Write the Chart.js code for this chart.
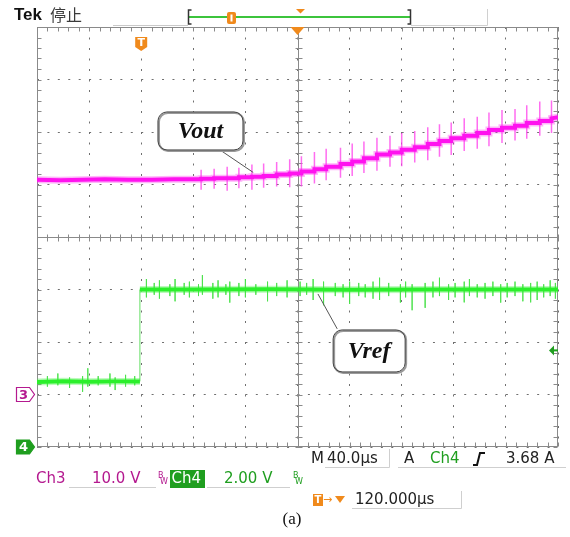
<!DOCTYPE html>
<html lang="zh">
<head>
<meta charset="UTF-8" />
<title>Vout / Vref</title>
<script src="https://cdn.jsdelivr.net/npm/chart.js"></script>
<style>
  html, body { margin: 0; padding: 0; background: #fff; }
  #wrap { width: 570px; height: 537px; }
</style>
</head>
<body>
<div id="wrap"><canvas id="scope" width="570" height="537"></canvas></div>
<script>
// time in µs (trigger = 0), Ch3 in V (10 V/div), Ch4 in V (2 V/div)

// Ch3 - Vout: flat part, then one step per switching period
const voutHeadT = [-80, -62, -45, -28, -10, 8, 25, 40];
const voutHeadV = [40.9, 40.8, 40.9, 41.0, 40.9, 40.9, 41.0, 41.0];
const voutStepT = [46, 56, 66, 75, 85, 94, 104, 114, 123, 133, 142, 153, 162, 171, 181,
                   191, 200, 210, 220, 229, 238, 248, 258, 267, 277, 287, 296, 306, 315];
const voutLevel = [41.1, 41.2, 41.2, 41.4, 41.5, 41.6, 41.9, 42.1, 42.5, 42.9, 43.4, 43.9, 44.4, 45.0, 45.7,
                   46.1, 46.6, 47.1, 47.7, 48.3, 48.8, 49.3, 49.8, 50.4, 50.8, 51.2, 51.7, 52.1, 52.6];
const voutTailT = [320];
const voutTailV = [52.8];
// switching spikes on Vout (top / bottom of each spike)
const voutSpikeHi = [42.8, 43.0, 43.4, 43.2, 43.8, 44.0, 44.3, 44.8, 45.4, 46.2, 46.8, 47.0, 47.8, 48.2, 48.9,
                     49.3, 49.8, 50.2, 50.9, 51.5, 51.8, 52.6, 52.9, 53.7, 54.2, 54.4, 55.1, 55.8, 56.0];
const voutSpikeLo = [39.0, 39.2, 38.8, 39.3, 39.0, 39.4, 39.6, 39.5, 39.6, 40.2, 40.8, 41.3, 41.6, 42.2, 42.6,
                     43.4, 43.5, 44.2, 44.6, 45.3, 45.6, 46.4, 46.8, 47.3, 47.9, 48.4, 48.7, 49.3, 49.8];

// Ch4 - Vref: 2.5 V stepping to 6.0 V at the trigger
const vrefT = [-80, -60, -40, -20, -1, -1, 40, 100, 160, 220, 280, 320];
const vrefV = [2.48, 2.50, 2.49, 2.50, 2.50, 6.00, 6.00, 6.01, 5.99, 6.00, 6.00, 6.00];
const vrefSpikeT  = [-72, -64, -55, -45, -41, -33, -24, -20, -12, -5,
                     4, 10, 14, 22, 26, 33, 37, 44, 47, 55, 59, 65, 68, 75, 80, 88, 97, 104, 112, 122,
                     127, 132, 140, 149, 155, 160, 167, 172, 178, 183, 190, 199, 203, 208, 218, 224,
                     229, 236, 241, 248, 252, 258, 264, 270, 276, 281, 287, 293, 299, 304, 309, 314, 318];
const vrefSpikeHi = [2.70, 2.80, 2.65, 2.70, 3.00, 2.70, 2.80, 2.65, 2.75, 2.70,
                     6.40, 6.25, 6.35, 6.20, 6.40, 6.25, 6.30, 6.20, 6.55, 6.25, 6.35, 6.20, 6.30, 6.25, 6.40, 6.20, 6.30, 6.25, 6.35, 6.30,
                     6.25, 6.40, 6.30, 6.25, 6.20, 6.30, 6.25, 6.20, 6.30, 6.45, 6.25, 6.20, 6.30, 6.20, 6.25, 6.30,
                     6.45, 6.20, 6.25, 6.30, 6.40, 6.20, 6.25, 6.30, 6.20, 6.25, 6.30, 6.20, 6.25, 6.30, 6.20, 6.35, 6.25];
const vrefSpikeLo = [2.30, 2.35, 2.25, 2.10, 2.30, 2.35, 2.30, 2.17, 2.30, 2.35,
                     5.70, 5.80, 5.65, 5.75, 5.55, 5.80, 5.70, 5.75, 5.80, 5.65, 5.70, 5.80, 5.50, 5.75, 5.70, 5.80, 5.55, 5.75, 5.70, 5.75,
                     5.80, 5.60, 5.40, 5.75, 5.70, 5.45, 5.75, 5.70, 5.65, 5.60, 5.75, 5.50, 5.70, 5.21, 5.30, 5.70,
                     5.75, 5.60, 5.70, 5.51, 5.75, 5.70, 5.65, 5.75, 5.50, 5.70, 5.75, 5.55, 5.51, 5.60, 5.70, 5.75, 5.65];

// build point lists
const voutPts = voutHeadT.map((t, i) => ({ x: t, y: voutHeadV[i] }));
let lastLevel = voutHeadV[voutHeadV.length - 1];
voutStepT.forEach((t, i) => {
  voutPts.push({ x: t, y: lastLevel }, { x: t, y: voutLevel[i] });
  lastLevel = voutLevel[i];
});
voutTailT.forEach((t, i) => voutPts.push({ x: t, y: voutTailV[i] }));

const vrefPts = vrefT.map((t, i) => ({ x: t, y: vrefV[i] }));

function spikes(ts, hi, lo) {
  const pts = [];
  ts.forEach((t, i) => pts.push({ x: t, y: hi[i] }, { x: t, y: lo[i] }, { x: t, y: null }));
  return pts;
}

const MAGENTA = '#ff12ef';
const GREEN = '#2bef2b';
const ORANGE = '#f08a1c';
const DKGREEN = '#1f9e1f';
const PURPLE = '#b4198f';

const isVertical = ctx => ctx.p0.parsed.x === ctx.p1.parsed.x;

// oscilloscope graticule: frame, centre axes and minor ticks
const graticule = {
  id: 'graticule',
  beforeDatasetsDraw(chart) {
    const { ctx, chartArea: a, scales: { x, y } } = chart;
    const L = Math.round(a.left) + 0.5, R = Math.round(a.right) - 0.5;
    const T = Math.round(a.top) + 0.5, B = Math.round(a.bottom) - 0.5;
    const cx = Math.round(x.getPixelForValue(120)) + 0.5;
    const cy = Math.round(y.getPixelForValue(30)) + 0.5;
    ctx.save();
    ctx.strokeStyle = '#8a8a8a';
    ctx.lineWidth = 1;
    ctx.strokeRect(L, T, R - L, B - T);
    ctx.beginPath();
    ctx.moveTo(cx, T); ctx.lineTo(cx, B);
    ctx.moveTo(L, cy); ctx.lineTo(R, cy);
    for (let t = -80; t <= 320; t += 8) {
      const px = Math.round(x.getPixelForValue(t)) + 0.5;
      ctx.moveTo(px, T); ctx.lineTo(px, T + 4);
      ctx.moveTo(px, B); ctx.lineTo(px, B - 4);
      ctx.moveTo(px, cy - 3); ctx.lineTo(px, cy + 4);
    }
    for (let v = -10; v <= 70; v += 2) {
      const py = Math.round(y.getPixelForValue(v)) + 0.5;
      ctx.moveTo(L, py); ctx.lineTo(L + 4, py);
      ctx.moveTo(R, py); ctx.lineTo(R - 4, py);
      ctx.moveTo(cx - 3, py); ctx.lineTo(cx + 4, py);
    }
    ctx.stroke();
    ctx.restore();
  }
};

function callout(ctx, bx, by, w, h, label, lx0, ly0, lx1, ly1) {
  ctx.save();
  ctx.strokeStyle = '#555';
  ctx.lineWidth = 1;
  ctx.beginPath(); ctx.moveTo(lx0, ly0); ctx.lineTo(lx1, ly1); ctx.stroke();
  ctx.fillStyle = '#fff';
  ctx.beginPath(); ctx.roundRect(bx - w / 2, by - h / 2, w, h, 9); ctx.fill();
  ctx.strokeStyle = '#9a9a9a';
  ctx.lineWidth = 2;
  ctx.beginPath(); ctx.roundRect(bx - w / 2 + 1, by - h / 2 + 1, w, h, 9); ctx.stroke();
  ctx.strokeStyle = '#444';
  ctx.lineWidth = 1;
  ctx.beginPath(); ctx.roundRect(bx - w / 2, by - h / 2, w, h, 9); ctx.stroke();
  ctx.fillStyle = '#111';
  ctx.font = "italic 600 24px 'Liberation Serif'";
  ctx.textAlign = 'center';
  ctx.textBaseline = 'middle';
  ctx.fillText(label, bx, by + 1);
  ctx.restore();
}

function tag(ctx, x, y, fill, stroke, label, txtColor) {
  ctx.save();
  ctx.beginPath();
  ctx.moveTo(x, y - 7); ctx.lineTo(x + 13, y - 7); ctx.lineTo(x + 18, y);
  ctx.lineTo(x + 13, y + 7); ctx.lineTo(x, y + 7); ctx.closePath();
  if (fill) { ctx.fillStyle = fill; ctx.fill(); }
  ctx.strokeStyle = stroke; ctx.lineWidth = 1.2; ctx.stroke();
  ctx.fillStyle = txtColor;
  ctx.font = "bold 13px 'DejaVu Sans'";
  ctx.textAlign = 'center'; ctx.textBaseline = 'middle';
  ctx.fillText(label, x + 7, y + 1);
  ctx.restore();
}

function bw(ctx, x, y, color) {
  ctx.save();
  ctx.fillStyle = color;
  ctx.font = "8px 'DejaVu Sans'";
  ctx.textAlign = 'left';
  ctx.textBaseline = 'middle';
  ctx.fillText('B', x, y - 3);
  ctx.fillText('W', x + 2, y + 3);
  ctx.restore();
}

function line(ctx, pts, color, w) {
  ctx.save();
  ctx.strokeStyle = color; ctx.lineWidth = w;
  ctx.beginPath();
  ctx.moveTo(pts[0], pts[1]);
  for (let i = 2; i < pts.length; i += 2) ctx.lineTo(pts[i], pts[i + 1]);
  ctx.stroke();
  ctx.restore();
}

function txt(ctx, s, x, y, color, font) {
  ctx.fillStyle = color;
  ctx.font = font;
  ctx.textAlign = 'left';
  ctx.textBaseline = 'middle';
  ctx.fillText(s, x, y);
}

const overlay = {
  id: 'overlay',
  afterDatasetsDraw(chart) {
    const { ctx, scales: { x, y, y4 } } = chart;
    // callouts
    callout(ctx, x.getPixelForValue(45.5), y.getPixelForValue(50.2), 85, 38, 'Vout',
            x.getPixelForValue(61), y.getPixelForValue(46.5), x.getPixelForValue(86), y.getPixelForValue(42.3));
    callout(ctx, x.getPixelForValue(175), y4.getPixelForValue(3.66), 72, 42, 'Vref',
            x.getPixelForValue(150.5), y4.getPixelForValue(4.5), x.getPixelForValue(135.7), y4.getPixelForValue(5.83));

    // channel ground markers
    tag(ctx, 16.5, y.getPixelForValue(0), '#fff', PURPLE, '3', PURPLE);
    tag(ctx, 16.5, y4.getPixelForValue(0), DKGREEN, DKGREEN, '4', '#fff');

    // Ch4 trigger level arrow
    const ty = y4.getPixelForValue(3.68);
    ctx.save();
    ctx.fillStyle = DKGREEN; ctx.strokeStyle = DKGREEN; ctx.lineWidth = 2;
    ctx.beginPath(); ctx.moveTo(549, ty); ctx.lineTo(554, ty - 5); ctx.lineTo(554, ty + 5); ctx.closePath(); ctx.fill();
    ctx.beginPath(); ctx.moveTo(553, ty); ctx.lineTo(558, ty); ctx.stroke();
    ctx.restore();

    // trigger point marker and delay marker
    const tx = x.getPixelForValue(0);
    ctx.save();
    ctx.fillStyle = ORANGE;
    ctx.beginPath();
    ctx.moveTo(tx - 6, 37); ctx.lineTo(tx + 6, 37); ctx.lineTo(tx + 6, 47);
    ctx.lineTo(tx, 51); ctx.lineTo(tx - 6, 47); ctx.closePath(); ctx.fill();
    ctx.fillStyle = '#fff';
    ctx.font = "bold 11px 'DejaVu Sans'";
    ctx.textAlign = 'center'; ctx.textBaseline = 'middle';
    ctx.fillText('T', tx, 43);
    const mx = x.getPixelForValue(120);
    ctx.fillStyle = ORANGE;
    ctx.beginPath(); ctx.moveTo(mx - 7, 27); ctx.lineTo(mx + 7, 27); ctx.lineTo(mx, 35); ctx.closePath(); ctx.fill();
    ctx.restore();
  },
  afterDraw(chart) {
    const ctx = chart.ctx;
    ctx.save();
    // header
    txt(ctx, 'Tek', 14, 15, '#111', "bold 17px 'Liberation Sans'");
    txt(ctx, '停止', 50, 15, '#3a3a3a', "16px 'Noto Sans CJK SC'");
    line(ctx, [113, 25.5, 188, 25.5], '#c9c9c9', 1);
    line(ctx, [411, 25.5, 487.5, 25.5, 487.5, 9], '#d0d0d0', 1);
    line(ctx, [189, 17, 410, 17], '#3cc43c', 2);
    line(ctx, [191.5, 10, 188.5, 10, 188.5, 24, 191.5, 24], '#333', 1.5);
    line(ctx, [407.5, 10, 410.5, 10, 410.5, 24, 407.5, 24], '#333', 1.5);
    ctx.fillStyle = ORANGE;
    ctx.beginPath(); ctx.roundRect(227, 12, 9, 12, 2); ctx.fill();
    ctx.fillStyle = '#fff'; ctx.fillRect(230.5, 14.5, 2, 7);
    ctx.fillStyle = ORANGE;
    ctx.beginPath(); ctx.moveTo(296, 9); ctx.lineTo(305, 9); ctx.lineTo(300.5, 13.5); ctx.closePath(); ctx.fill();

    // status lines
    const sf = "15px 'DejaVu Sans'";
    txt(ctx, 'M', 311, 459, '#222', sf);
    txt(ctx, '40.0µs', 327, 459, '#222', sf);
    line(ctx, [325, 467.5, 389.5, 467.5, 389.5, 449], '#cfcfcf', 1);
    txt(ctx, 'A', 404, 459, '#222', sf);
    txt(ctx, 'Ch4', 430, 459, DKGREEN, sf);
    line(ctx, [473, 465, 477, 465, 480, 453, 485, 453], '#111', 2);
    txt(ctx, '3.68 A', 506, 459, '#222', sf);
    line(ctx, [398, 467.5, 566, 467.5], '#cfcfcf', 1);

    txt(ctx, 'Ch3', 36, 479, PURPLE, sf);
    line(ctx, [69, 487.5, 156, 487.5], '#cfcfcf', 1);
    txt(ctx, '10.0 V', 92, 479, PURPLE, sf);
    bw(ctx, 158, 479, PURPLE);
    ctx.fillStyle = DKGREEN; ctx.fillRect(170, 470, 35, 18);
    txt(ctx, 'Ch4', 171.5, 479, '#fff', sf);
    line(ctx, [207, 487.5, 290, 487.5], '#cfcfcf', 1);
    txt(ctx, '2.00 V', 224, 479, DKGREEN, sf);
    bw(ctx, 293, 479, DKGREEN);

    ctx.fillStyle = ORANGE; ctx.fillRect(313, 494, 10, 12);
    txt(ctx, 'T', 314.5, 500.5, '#fff', "bold 10px 'DejaVu Sans'");
    txt(ctx, '→', 323, 500, ORANGE, "11px 'DejaVu Sans'");
    ctx.fillStyle = ORANGE;
    ctx.beginPath(); ctx.moveTo(335, 496); ctx.lineTo(345, 496); ctx.lineTo(340, 503); ctx.closePath(); ctx.fill();
    txt(ctx, '120.000µs', 355, 500, '#222', sf);
    line(ctx, [352, 508.5, 461.5, 508.5, 461.5, 491], '#cfcfcf', 1);

    ctx.fillStyle = '#111';
    ctx.font = "17px 'Liberation Serif'";
    ctx.textAlign = 'center';
    ctx.textBaseline = 'middle';
    ctx.fillText('(a)', 292, 520);
    ctx.restore();
  }
};

const gridOpts = { color: '#707070', drawTicks: false, lineWidth: 1 };

new Chart(document.getElementById('scope'), {
  type: 'line',
  data: {
    datasets: [
      { label: 'Vout', data: voutPts, yAxisID: 'y', borderColor: MAGENTA, borderWidth: 4 },
      { label: 'Vout noise', data: voutPts, yAxisID: 'y', borderColor: 'rgba(255, 40, 240, 0.35)', borderWidth: 7 },
      { label: 'Vout spikes', data: spikes(voutStepT, voutSpikeHi, voutSpikeLo), yAxisID: 'y',
        borderColor: 'rgba(255, 60, 235, 0.75)', borderWidth: 1.5, spanGaps: false },
      { label: 'Vref', data: vrefPts, yAxisID: 'y4', borderColor: GREEN, borderWidth: 4,
        segment: {
          borderWidth: ctx => (isVertical(ctx) ? 1 : 4),
          borderColor: ctx => (isVertical(ctx) ? 'rgba(60, 215, 60, 0.8)' : GREEN)
        } },
      { label: 'Vref noise', data: vrefPts, yAxisID: 'y4', borderColor: 'rgba(60, 240, 60, 0.35)', borderWidth: 7,
        segment: { borderColor: ctx => (isVertical(ctx) ? 'rgba(0, 0, 0, 0)' : 'rgba(60, 240, 60, 0.35)') } },
      { label: 'Vref spikes', data: spikes(vrefSpikeT, vrefSpikeHi, vrefSpikeLo), yAxisID: 'y4',
        borderColor: 'rgba(70, 225, 70, 0.7)', borderWidth: 1, spanGaps: false }
    ]
  },
  options: {
    responsive: false,
    animation: false,
    events: [],
    layout: { padding: { left: 37, top: 27, right: 12, bottom: 90 } },
    plugins: { legend: { display: false }, tooltip: { enabled: false } },
    elements: { point: { radius: 0 }, line: { tension: 0, borderCapStyle: 'butt', borderJoinStyle: 'miter' } },
    scales: {
      x: { type: 'linear', min: -80, max: 320,
           ticks: { display: false, stepSize: 40 }, grid: gridOpts,
           border: { display: false, dash: [2, 8.5] } },
      y: { type: 'linear', min: -10, max: 70,
           ticks: { display: false, stepSize: 10 }, grid: gridOpts,
           border: { display: false, dash: [2, 8.42] } },
      y4: { type: 'linear', min: 0, max: 16, display: false }
    }
  },
  plugins: [graticule, overlay]
});
</script>
</body>
</html>
